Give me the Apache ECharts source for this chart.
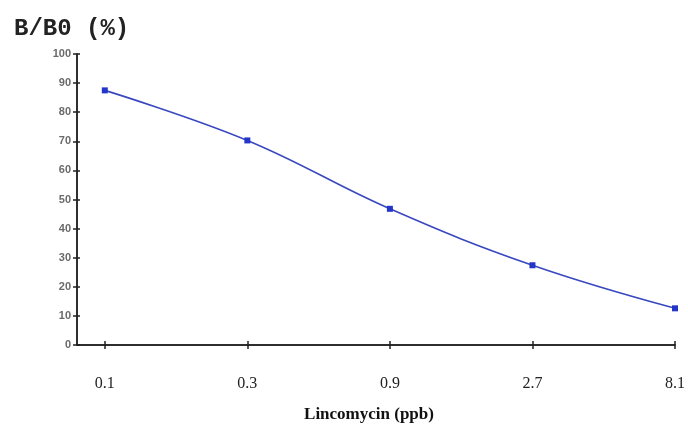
<!DOCTYPE html>
<html><head><meta charset="utf-8">
<script src="https://cdn.jsdelivr.net/npm/echarts@6/dist/echarts.min.js"></script>
<style>html,body{margin:0;padding:0;background:#fff}#c{width:688px;height:428px}</style>
</head><body><div id="c"></div>
<script>
var categories = ['0.1', '0.3', '0.9', '2.7', '8.1'];
var values = [87.5, 70.3, 46.8, 27.4, 12.6];
var yTicks = [0, 10, 20, 30, 40, 50, 60, 70, 80, 90, 100];
var titleText = 'B/B0 (%)';
var xName = 'Lincomycin (ppb)';

var idx = categories.map(function (c, i) { return i; });
var chart = echarts.init(document.getElementById('c'));
var grid = { left: 77, right: 9, top: 54, bottom: 79 };
function axisLine() { return { show: true, onZero: false, lineStyle: { color: '#222', width: 1.5 } }; }
var xBase = {
  type: 'value', min: -0.195, max: 4, splitLine: { show: false },
  axisLine: axisLine()
};
chart.setOption({
  animation: false,
  title: { text: titleText, left: 9, top: 12,
    textStyle: { fontFamily: 'Liberation Mono', fontWeight: 'bold', fontSize: 24, color: '#222' } },
  grid: grid,
  xAxis: [
    Object.assign({}, xBase, {
      name: xName, nameLocation: 'middle', nameGap: 61,
      nameTextStyle: { fontFamily: 'Liberation Serif', fontWeight: 'bold', fontSize: 17, color: '#111', padding: [0, 14, 0, 0] },
      axisTick: { show: true, customValues: idx, length: 4, lineStyle: { color: '#222', width: 1.5 } },
      axisLabel: { customValues: idx, margin: 31, fontFamily: 'Liberation Serif', fontSize: 16, color: '#222',
        formatter: function (v) { return categories[Math.round(v)]; } }
    }),
    Object.assign({}, xBase, {
      position: 'bottom',
      axisTick: { show: true, inside: true, customValues: idx, length: 4, lineStyle: { color: '#222', width: 1.5 } },
      axisLabel: { show: false }
    })
  ],
  yAxis: [
    { type: 'value', min: 0, max: 100, interval: 10, splitLine: { show: false }, axisLine: axisLine(),
      axisTick: { show: true, length: 4, lineStyle: { color: '#222', width: 1.5 } },
      axisLabel: { margin: 6, fontFamily: 'Liberation Sans', fontWeight: 'bold', fontSize: 11, color: '#6a6a6a',
        formatter: function (v) { return yTicks.indexOf(v) >= 0 ? String(v) : ''; } } },
    { type: 'value', min: 0, max: 100, interval: 10, position: 'left', splitLine: { show: false }, axisLine: axisLine(),
      axisTick: { show: true, inside: true, length: 3, lineStyle: { color: '#222', width: 1.5 } },
      axisLabel: { show: false } }
  ],
  series: [{
    type: 'line', xAxisIndex: 0, yAxisIndex: 0,
    data: values.map(function (v, i) { return [idx[i], v]; }),
    smooth: 0.4,
    symbol: 'rect', symbolSize: 6,
    itemStyle: { color: '#2436c8' },
    lineStyle: { color: '#3a48c0', width: 1.6 }
  }]
});
</script></body></html>
